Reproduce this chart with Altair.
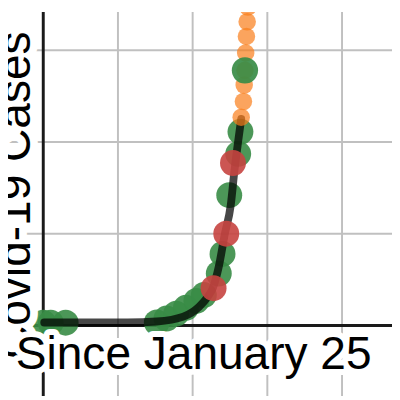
import altair as alt
import pandas as pd

# grid values (days, thousands of cases)
x_grid = [10, 20, 30, 40]
y_grid = [10, 20, 30]

# green observed points
green_x = [0, 1, 3, 15.2, 16.5, 17.8, 19.1, 20.5, 21.5, 23.5, 24.0, 24.9, 26.1, 26.4]
green_y = [0.3, 0.3, 0.3, 0.32, 0.75, 1.28, 1.92, 2.67, 3.31, 5.66, 7.79, 14.2, 18.7, 21.1]

# red points
red_x = [22.8, 24.5, 25.4]
red_y = [4.06, 10.0, 17.7]

# orange points
orange_x = [26.5, 26.8, 26.9, 27.0, 27.1, 27.2, 27.3, 27.4]
orange_y = [22.7, 24.4, 26.2, 27.8, 29.7, 31.5, 33.1, 34.7]

# highlighted green point
big_x = [27.0]
big_y = [27.8]

# fitted curve
curve_x = [0.13, 11.3, 15.2, 18.75, 20.85, 22.0, 22.7, 23.5, 24.3, 25.1, 25.6, 26.1, 26.5]
curve_y = [0.32, 0.32, 0.43, 0.96, 2.03, 3.10, 4.06, 6.41, 9.93, 13.1, 16.9, 20.1, 22.5]

xs = alt.Scale(domain=[-4.72, 46.69], nice=False, zero=False)
ys = alt.Scale(domain=[-7.69, 34.16], nice=False, zero=False)

vg = pd.DataFrame({"x": x_grid})
hg = pd.DataFrame({"y": y_grid})
green = pd.DataFrame({"x": green_x, "y": green_y})
red = pd.DataFrame({"x": red_x, "y": red_y})
orange = pd.DataFrame({"x": orange_x, "y": orange_y})
big = pd.DataFrame({"x": big_x, "y": big_y})
curve = pd.DataFrame({"x": curve_x, "y": curve_y, "o": list(range(len(curve_x)))})
zero = pd.DataFrame({"v": [0]})

X = lambda: alt.X("x:Q", scale=xs, axis=None)
Y = lambda: alt.Y("y:Q", scale=ys, axis=None)

vgrid = alt.Chart(vg).mark_rule(color="#c0c0c0", strokeWidth=2).encode(x=X())
hgrid = alt.Chart(hg).mark_rule(color="#c0c0c0", strokeWidth=2).encode(y=Y())
xaxis = alt.Chart(zero).mark_rule(color="#1a1a1a", strokeWidth=3).encode(
    y=alt.Y("v:Q", scale=ys, axis=None))
yaxis = alt.Chart(zero).mark_rule(color="#1a1a1a", strokeWidth=3).encode(
    x=alt.X("v:Q", scale=xs, axis=None))

def pts(df, color, size, op):
    return alt.Chart(df).mark_circle(color=color, size=size, opacity=op).encode(x=X(), y=Y())

g_layer = pts(green, "#388c46", 700, 0.9)
r_layer = pts(red, "#c74440", 700, 0.9)
o_layer = pts(orange, "#fa7e19", 320, 0.7)
b_layer = pts(big, "#388c46", 720, 0.92)

line = alt.Chart(curve).mark_line(color="#000000", strokeWidth=8, opacity=0.72,
                                  strokeCap="round", interpolate="monotone").encode(
    x=X(), y=Y(), order="o:Q")

font = "Liberation Sans"
lab = pd.DataFrame({"t": ["Since January 25"]})
ylab = pd.DataFrame({"t": ["Covid-19 Cases"]})

xl_halo = alt.Chart(lab).mark_text(font=font, fontSize=47, align="left", baseline="alphabetic",
                                   stroke="white", strokeWidth=12, strokeJoin="round",
                                   fill="white").encode(
    text="t:N", x=alt.value(8), y=alt.value(364))
xl = alt.Chart(lab).mark_text(font=font, fontSize=47, align="left", baseline="alphabetic",
                              color="black").encode(
    text="t:N", x=alt.value(8), y=alt.value(364))
yl_halo = alt.Chart(ylab).mark_text(font=font, fontSize=47, align="center", baseline="alphabetic",
                                    angle=270, stroke="white", strokeWidth=16, strokeJoin="round",
                                    fill="white").encode(
    text="t:N", x=alt.value(22), y=alt.value(187))
yl = alt.Chart(ylab).mark_text(font=font, fontSize=47, align="center", baseline="alphabetic",
                               angle=270, color="black").encode(
    text="t:N", x=alt.value(22), y=alt.value(187))

chart = alt.layer(
    vgrid, hgrid, xaxis, yaxis,
    g_layer, line, r_layer, o_layer, b_layer,
    yl_halo, yl, xl_halo, xl,
).properties(
    width=392, height=392, padding=0, autosize=alt.AutoSizeParams(type="none"),
    background="white",
).configure_view(stroke=None, clip=True)

chart.save("out.html", embed_options={"renderer": "svg", "actions": False})
